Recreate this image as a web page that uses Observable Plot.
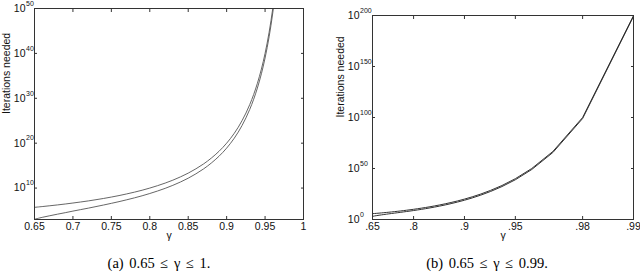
<!DOCTYPE html>
<html><head><meta charset="utf-8">
<script src="https://cdn.jsdelivr.net/npm/d3@7"></script>
<script src="https://cdn.jsdelivr.net/npm/@observablehq/plot@0.6"></script>
<style>
body{margin:0;background:#fff;}
#wrap{position:relative;width:640px;height:272px;overflow:hidden;background:#fff;}
.panel{position:absolute;top:0;}
.panel svg{overflow:visible;}
.cap{position:absolute;top:255px;font-family:"Liberation Serif","Times New Roman",serif;font-size:14.5px;line-height:17px;white-space:nowrap;transform:translateX(-50%);color:#000;word-spacing:2px;}
</style></head><body>
<div id="wrap">
<div id="a" class="panel" style="left:0"></div>
<div id="b" class="panel" style="left:320px"></div>
<div class="cap" id="capA" style="left:159px"></div>
<div class="cap" id="capB" style="left:487px"></div>
</div>
<script>
// discount factor values
const gamma = [0.65,0.66,0.67,0.68,0.69,0.70,0.71,0.72,0.73,0.74,0.75,0.76,0.77,0.78,0.79,0.80,0.81,0.82,0.83,0.84,0.85,0.86,0.87,0.88,0.89,0.90,0.91,0.92,0.93,0.94,0.95,0.96,0.97,0.98,0.99];
// log10 of iterations needed, upper curve
const upperExp = [5.71,5.88,6.06,6.25,6.45,6.67,6.90,7.14,7.41,7.69,8.00,8.33,8.70,9.09,9.52,10.00,10.53,11.11,11.76,12.50,13.33,14.29,15.38,16.67,18.18,20.00,22.22,25.00,28.57,33.33,40.00,50.00,66.67,100.00,200.00];
// log10 of iterations needed, lower curve
const lowerExp = [3.05,3.48,3.84,4.19,4.52,4.87,5.20,5.53,5.88,6.23,6.60,6.98,7.39,7.82,8.28,8.79,9.34,9.94,10.61,11.36,12.20,13.17,14.27,15.57,17.08,18.90,21.13,23.92,27.50,32.28,38.97,49.00,65.67,99.00,199.00];

const xTicksA = [0.65,0.7,0.75,0.8,0.85,0.9,0.95,1];
const xTickLabelsA = ["0.65","0.7","0.75","0.8","0.85","0.9","0.95","1"];
const yTickExpA = [10,20,30,40,50];
const xTicksB = [0.65,0.8,0.9,0.95,0.98,0.99];
const xTickLabelsB = [".65",".8",".9",".95",".98",".99"];
const yTickExpB = [0,50,100,150,200];
const yLabel = "Iterations needed";
const xLabel = "γ";
const captionA = "(a) 0.65 ≤ γ ≤ 1.";
const captionB = "(b) 0.65 ≤ γ ≤ 0.99.";

const rows = gamma.flatMap((g, i) => [
  {g, v: 10 ** upperExp[i], s: "upper"},
  {g, v: 10 ** lowerExp[i], s: "lower"}
]);

const font = "'Liberation Sans', Arial, Helvetica, sans-serif";
function tickAxes(xt, yt) {
  const common = {tickSize: -3, tickFormat: () => "", label: null, stroke: "#333"};
  return [
    Plot.axisX({...common, ticks: xt, anchor: "bottom"}),
    Plot.axisX({...common, ticks: xt, anchor: "top"}),
    Plot.axisY({...common, ticks: yt, anchor: "left"}),
    Plot.axisY({...common, ticks: yt, anchor: "right"})
  ];
}

const chartA = Plot.plot({
  width: 320, height: 248,
  marginLeft: 34, marginRight: 17, marginTop: 8, marginBottom: 29,
  style: {fontFamily: font, fontSize: "10.5px", overflow: "visible", background: "transparent"},
  x: {type: "linear", domain: [0.65, 1]},
  y: {type: "log", domain: [1e3, 1e50]},
  marks: [
    Plot.line(rows, {filter: d => d.g <= 0.97, x: "g", y: "v", z: "s", stroke: "#555", strokeWidth: 0.9, curve: "catmull-rom", clip: true}),
    Plot.frame({stroke: "#333"}),
    ...tickAxes(xTicksA, yTickExpA.map(e => 10 ** e)),
    Plot.text(xTicksA, {x: d => d, frameAnchor: "bottom", dy: 10, text: (d, i) => xTickLabelsA[i], fill: "#111"}),
    Plot.text(yTickExpA, {y: d => 10 ** d, frameAnchor: "left", dx: -9, textAnchor: "end", text: () => "10", fill: "#111"}),
    Plot.text(yTickExpA, {y: d => 10 ** d, frameAnchor: "left", dx: -8.5, dy: -5, textAnchor: "start", fontSize: 7, text: d => String(d), fill: "#111"}),
    Plot.text([xLabel], {frameAnchor: "bottom", dy: 19, text: d => d, fill: "#111"}),
    Plot.text([yLabel], {frameAnchor: "left", dx: -27.5, rotate: -90, text: d => d, fill: "#111"})
  ]
});

const chartB = Plot.plot({
  width: 320, height: 248,
  marginLeft: 52, marginRight: 7, marginTop: 15, marginBottom: 29,
  style: {fontFamily: font, fontSize: "10.5px", overflow: "visible", background: "transparent"},
  x: {type: "log", domain: [1 - xTicksB[0], 1 - xTicksB[xTicksB.length - 1]]},
  y: {type: "log", domain: [1, 1e200]},
  marks: [
    Plot.line(rows, {x: d => 1 - d.g, y: "v", z: "s", stroke: "#333", strokeWidth: 1, clip: true}),
    Plot.frame({stroke: "#333"}),
    ...tickAxes(xTicksB.map(g => 1 - g), yTickExpB.map(e => 10 ** e)),
    Plot.text(xTicksB, {x: d => 1 - d, frameAnchor: "bottom", dy: 10, text: (d, i) => xTickLabelsB[i], fill: "#111"}),
    Plot.text(yTickExpB, {y: d => 10 ** d, frameAnchor: "left", dx: -13, textAnchor: "end", text: () => "10", fill: "#111"}),
    Plot.text(yTickExpB, {y: d => 10 ** d, frameAnchor: "left", dx: -12.5, dy: -5, textAnchor: "start", fontSize: 7, text: d => String(d), fill: "#111"}),
    Plot.text([xLabel], {frameAnchor: "bottom", dy: 19, text: d => d, fill: "#111"}),
    Plot.text([yLabel], {frameAnchor: "left", dx: -32, rotate: -90, text: d => d, fill: "#111"})
  ]
});

document.getElementById("a").appendChild(chartA);
document.getElementById("b").appendChild(chartB);
document.getElementById("capA").textContent = captionA;
document.getElementById("capB").textContent = captionB;
</script>
</body></html>
